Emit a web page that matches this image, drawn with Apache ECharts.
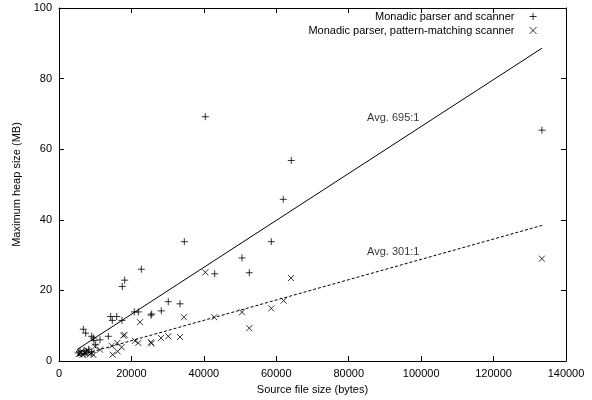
<!DOCTYPE html>
<html>
<head>
<meta charset="utf-8">
<script src="https://cdn.jsdelivr.net/npm/echarts@6/dist/echarts.min.js"></script>
<style>html,body{margin:0;padding:0;background:#fff}#c{width:592px;height:400px}</style>
</head>
<body>
<div id="c"></div>
<script>
// Source file size (bytes), heap size (MB)
const seriesNames = ['Monadic parser and scanner', 'Monadic parser, pattern-matching scanner'];
const scannerPoints = [
  [5300, 2.3], [5800, 2.8], [6300, 2.0], [6900, 3.0], [7200, 1.9], [6720, 9.0], [7360, 7.9],
  [7600, 2.6], [8200, 3.3], [9020, 7.0], [9480, 6.5], [9660, 5.8], [9000, 2.5], [10130, 4.6],
  [11320, 6.0], [13620, 7.0], [14270, 12.6], [14720, 11.5], [15930, 12.6], [17390, 11.5],
  [17480, 21.1], [18130, 22.9], [20800, 13.9], [21900, 13.9], [22730, 26.0], [25400, 13.0],
  [25600, 13.3], [28250, 14.2], [30180, 16.8], [33410, 16.2], [34600, 33.8], [40400, 69.2],
  [42990, 24.7], [50530, 29.2], [52550, 25.0], [58620, 33.8], [61930, 45.8], [64140, 56.8],
  [133350, 65.4]
];
const patternPoints = [
  [5500, 2.0], [6000, 2.5], [6500, 1.8], [7200, 2.2], [7800, 3.0], [8500, 1.9], [9020, 2.3],
  [9500, 1.7], [9940, 4.1], [11320, 3.2], [14550, 4.3], [14820, 1.8], [16100, 5.1], [16200, 2.7],
  [17300, 3.9], [17760, 7.2], [18100, 7.4], [20980, 5.7], [21900, 5.1], [22360, 11.0],
  [25400, 5.3], [25500, 5.0], [28160, 6.5], [30180, 7.0], [33410, 6.8], [34510, 12.4],
  [40400, 25.1], [42880, 12.4], [50530, 13.8], [52550, 9.3], [58620, 14.9], [62030, 17.1],
  [64050, 23.5], [133350, 29.0]
];
// fitted average-ratio lines (endpoints)
const fitScanner = [[5050, 3.3], [133350, 88.6]];
const fitPattern = [[5050, 1.45], [133350, 38.4]];
const fitLabels = [['Avg. 695:1', 92300, 68.9], ['Avg. 301:1', 92300, 30.9]];
const xTicks = [0, 20000, 40000, 60000, 80000, 100000, 120000, 140000];
const yTicks = [0, 20, 40, 60, 80, 100];

const FONT = 'Liberation Sans, Arial, Helvetica, sans-serif';
const plusPath = 'path://M0,5L10,5M5,0L5,10';
const crossPath = 'path://M0,0L10,10M10,0L0,10';

const chart = echarts.init(document.getElementById('c'), null, {renderer: 'canvas'});
const axisCommon = {
  axisLine: {show: true, onZero: false, lineStyle: {color: '#000', width: 1}},
  axisTick: {show: true, inside: true, length: 5, lineStyle: {color: '#000'}},
  splitLine: {show: false}
};
chart.setOption({
  animation: false,
  backgroundColor: '#fff',
  textStyle: {fontFamily: FONT},
  grid: {left: 59, right: 26, top: 8, bottom: 37, containLabel: false},
  legend: {
    orient: 'vertical', right: 55, top: 11, align: 'right', padding: 0,
    itemWidth: 7, itemHeight: 7, itemGap: 3, itemStyle: {color: 'transparent', borderColor: '#000', borderWidth: 1},
    textStyle: {fontFamily: FONT, fontSize: 11, color: '#000', padding: [0, 10, 0, 0]},
    data: seriesNames
  },
  xAxis: [
    Object.assign({
      type: 'value', min: xTicks[0], max: xTicks[xTicks.length - 1], interval: 20000, position: 'bottom',
      name: 'Source file size (bytes)', nameLocation: 'middle', nameGap: 23,
      nameTextStyle: {fontFamily: FONT, fontSize: 11, color: '#000'},
      axisLabel: {fontFamily: FONT, fontSize: 11, color: '#000', margin: 7, formatter: v => String(v)}
    }, axisCommon),
    Object.assign({
      type: 'value', min: xTicks[0], max: xTicks[xTicks.length - 1], interval: 20000, position: 'top',
      axisLabel: {show: false}
    }, axisCommon)
  ],
  yAxis: [
    Object.assign({
      type: 'value', min: yTicks[0], max: yTicks[yTicks.length - 1], interval: 20, position: 'left',
      name: 'Maximum heap size (MB)', nameLocation: 'middle', nameGap: 30,
      nameTextStyle: {fontFamily: FONT, fontSize: 11, color: '#000'},
      axisLabel: {fontFamily: FONT, fontSize: 11, color: '#000', margin: 7, formatter: v => String(v)}
    }, axisCommon),
    Object.assign({
      type: 'value', min: yTicks[0], max: yTicks[yTicks.length - 1], interval: 20, position: 'right',
      axisLabel: {show: false}
    }, axisCommon)
  ],
  series: [
    {
      name: seriesNames[0], type: 'scatter', data: scannerPoints, symbol: plusPath, symbolSize: 7,
      itemStyle: {color: 'transparent', borderColor: '#000', borderWidth: 1}, z: 5
    },
    {
      name: seriesNames[1], type: 'scatter', data: patternPoints, symbol: crossPath, symbolSize: 6,
      itemStyle: {color: 'transparent', borderColor: '#000', borderWidth: 1}, z: 5
    },
    {
      type: 'line', data: fitScanner, symbol: 'none', silent: true,
      lineStyle: {color: '#000', width: 1, type: 'solid'}, z: 3
    },
    {
      type: 'line', data: fitPattern, symbol: 'none', silent: true,
      lineStyle: {color: '#000', width: 1, type: [3, 2]}, z: 3
    },
    {
      type: 'scatter', symbolSize: 0, silent: true,
      data: fitLabels.map(d => ({value: [d[1], d[2]], name: d[0]})),
      label: {show: true, position: 'inside', formatter: p => p.name,
        fontFamily: FONT, fontSize: 11, color: '#000'}
    }
  ]
});
</script>
</body>
</html>
